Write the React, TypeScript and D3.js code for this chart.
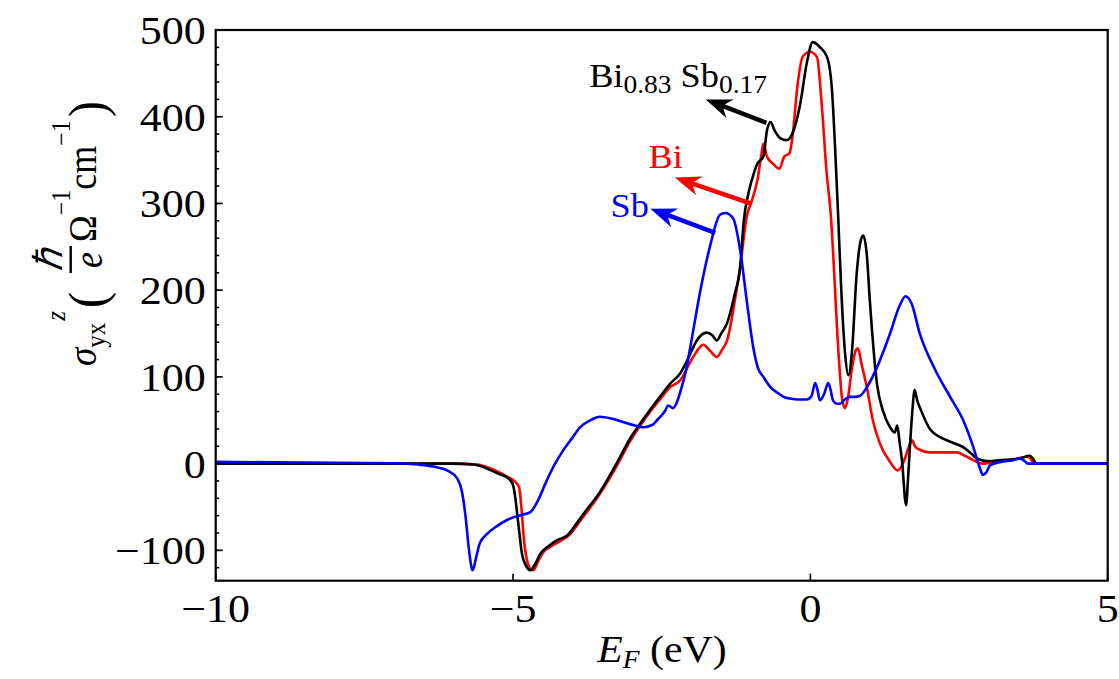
import React from "react";
import * as d3 from "d3";

// ---- data (E_F in eV, sigma in hbar/e Ohm^-1 cm^-1) ----
const sbX = [-10,-8,-7,-6.6,-6.3,-6.1,-5.94,-5.86,-5.8,-5.74,-5.68,-5.62,-5.56,-5.45,-5.27,-5.1,-5.0,-4.85,-4.71,-4.6,-4.43,-4.3,-4.16,-4.0,-3.87,-3.7,-3.54,-3.35,-3.15,-2.95,-2.81,-2.65,-2.58,-2.45,-2.39,-2.31,-2.25,-2.19,-2.1,-2.02,-1.86,-1.69,-1.52,-1.43,-1.3,-1.18,-1.07,-0.96,-0.88,-0.79,-0.67,-0.56,-0.45,-0.34,-0.2,-0.06,0.02,0.08,0.12,0.16,0.23,0.3,0.34,0.38,0.45,0.5,0.58,0.67,0.75,0.83,0.95,1.12,1.34,1.5,1.6,1.7,1.84,2.1,2.35,2.57,2.74,2.85,2.9,2.96,3.02,3.2,3.41,3.52,3.6,3.66,5];
const sbY = [2,1,0.5,-1,-4,-8,-17,-32,-60,-100,-123,-108,-92,-82,-72,-65,-62,-59,-56,-45,-19,-1,15,30,42,50,54,52,48,44,42,45,50,60,67,64,70,82,105,134,196,250,287,289,283,246,188,134,110,100,88,82,77,75,74,74,78,93,85,73,80,93,85,73,69,69,74,77,77,78,88,111,150,182,193,185,150,108,77,50,19,-5,-13,-10,-2,2,4,6,3,0,0];

const bisbX = [-10,-6,-5.67,-5.5,-5.33,-5.2,-5.1,-5.01,-4.96,-4.93,-4.89,-4.85,-4.78,-4.71,-4.63,-4.54,-4.4,-4.25,-4.09,-3.9,-3.75,-3.59,-3.3,-3.03,-2.8,-2.53,-2.36,-2.19,-2.05,-1.91,-1.74,-1.65,-1.57,-1.5,-1.4,-1.27,-1.18,-1.12,-1.04,-0.95,-0.89,-0.79,-0.73,-0.67,-0.6,-0.5,-0.4,-0.3,-0.17,-0.06,0.04,0.15,0.28,0.36,0.42,0.47,0.52,0.58,0.64,0.7,0.78,0.85,0.89,0.95,1.0,1.12,1.22,1.34,1.42,1.46,1.5,1.54,1.61,1.64,1.67,1.72,1.75,1.8,1.84,2.01,2.29,2.57,2.7,2.8,2.97,3.2,3.52,3.69,3.75,3.8,5];
const bisbY = [0,0,-1,-4,-9,-13,-16,-23,-40,-58,-82,-104,-118,-123,-116,-104,-95,-88,-83,-66,-52,-38,-5,29,52,77,92,104,122,142,151,148,142,150,162,196,227,280,312,335,346,354,384,394,384,375,373,381,415,462,486,481,469,434,358,281,200,130,102,130,220,258,263,240,188,92,61,42,36,44,25,4,-48,-20,15,65,85,72,65,40,27,19,12,6,3,4,6,9,5,0,0];

const biX = [-10,-6,-5.6,-5.3,-5.1,-4.98,-4.9,-4.86,-4.82,-4.77,-4.7,-4.66,-4.58,-4.5,-4.35,-4.2,-4.05,-3.85,-3.59,-3.3,-3.03,-2.8,-2.53,-2.36,-2.19,-1.97,-1.8,-1.7,-1.57,-1.48,-1.4,-1.27,-1.18,-1.07,-0.98,-0.89,-0.82,-0.79,-0.73,-0.63,-0.52,-0.44,-0.35,-0.3,-0.22,-0.13,-0.01,0.11,0.19,0.27,0.35,0.38,0.47,0.53,0.58,0.63,0.7,0.76,0.8,0.86,0.95,1.05,1.17,1.34,1.47,1.58,1.66,1.71,1.76,1.84,2.0,2.18,2.46,2.6,2.74,2.9,3.1,3.41,3.66,3.72,3.75,5];
const biY = [0,0,-1,-8,-15,-20,-27,-50,-85,-110,-122,-123,-113,-103,-95,-89,-82,-64,-40,-8,26,50,74,88,96,123,137,131,123,132,142,188,227,285,304,327,358,369,354,346,340,354,358,377,434,469,475,469,415,338,281,246,131,77,64,75,110,130,133,115,88,50,23,2,-8,4,20,27,20,16,13,13,13,9,4,0,2,5,8,4,0,0];

const xTicks = [-10, -5, 0, 5];
const yTicks = [-100, 0, 100, 200, 300, 400, 500];
const yMinorTicks = d3.range(-120, 501, 20);

// annotation anchors (data coordinates)
const annSb = { color: "#0000ff", tx: -3.36, ty: 284, x1: -1.6, y1: 266, x2: -2.69, y2: 294 };
const annBi = { color: "#ff0000", tx: -2.72, ty: 341, x1: -1.01, y1: 300, x2: -2.28, y2: 330 };
const annBiSb = { color: "#000000", tx: -3.72, ty: 434, x1: -0.74, y1: 393, x2: -1.76, y2: 420 };

const W = 1119, H = 679;
const L = 215.7, R = 1107.7, T = 30, B = 580.7;
const FONT = "'Liberation Serif', 'Times New Roman', serif";

function zip(xs: number[], ys: number[]) {
  return xs.map((x, i) => [x, ys[i]] as [number, number]);
}

function fmt(v: number) {
  return v < 0 ? "\u2212" + Math.abs(v) : String(v);
}

export default function App() {
  const x = d3.scaleLinear().domain([-10, 5]).range([L, R]);
  const y = d3.scaleLinear().domain([-135, 500]).range([B, T]);
  const line = d3.line<[number, number]>().x(d => x(d[0])).y(d => y(d[1])).curve(d3.curveMonotoneX);

  const series = [
    { data: zip(biX, biY), color: "#ff0000" },
    { data: zip(bisbX, bisbY), color: "#000000" },
    { data: zip(sbX, sbY), color: "#0000ff" },
  ];

  const arrow = (a: any, key: string) => {
    const px1 = x(a.x1), py1 = y(a.y1), px2 = x(a.x2), py2 = y(a.y2);
    const dx = px2 - px1, dy = py2 - py1;
    const len = Math.hypot(dx, dy);
    const ux = dx / len, uy = dy / len;
    const hl = 24, hw = 10;
    const bx = px2 - ux * hl, by = py2 - uy * hl;
    const nx = -uy, ny = ux;
    return (
      <g key={key}>
        <line x1={px1} y1={py1} x2={bx + ux * 6} y2={by + uy * 6} stroke={a.color} strokeWidth={4.5} />
        <path d={`M${px2},${py2}L${bx - ux * 2 + nx * hw},${by - uy * 2 + ny * hw}L${bx + ux * 6},${by + uy * 6}L${bx - ux * 2 - nx * hw},${by - uy * 2 - ny * hw}Z`} fill={a.color} />
      </g>
    );
  };

  const SX = 1.1; // horizontal stretch of text in the reference

  return (
    <svg width={W} height={H} style={{ position: "absolute", left: 0, top: 0, display: "block", background: "#fff" }} fontFamily={FONT}>
      <defs>
        <clipPath id="plot">
          <rect x={L} y={T} width={R - L} height={B - T} />
        </clipPath>
      </defs>
      {/* curves */}
      <g clipPath="url(#plot)">
        {series.map((s, i) => (
          <path key={i} d={line(s.data) || ""} fill="none" stroke={s.color} strokeWidth={2.6} strokeLinejoin="round" />
        ))}
      </g>
      {/* frame */}
      <rect x={L} y={T} width={R - L} height={B - T} fill="none" stroke="#000" strokeWidth={2.2} />
      {/* y ticks */}
      {yMinorTicks.map(v => (
        <line key={"m" + v} x1={L} x2={L + 3.5} y1={y(v)} y2={y(v)} stroke="#000" strokeWidth={1.6} />
      ))}
      {yTicks.map(v => (
        <g key={"y" + v}>
          <line x1={L} x2={L + 7} y1={y(v)} y2={y(v)} stroke="#000" strokeWidth={1.6} />
          <text transform={`translate(${L - 10},${y(v) + 14}) scale(${SX},1)`} fontSize={40} textAnchor="end" fill="#000">
            {fmt(v)}
          </text>
        </g>
      ))}
      {/* x ticks */}
      {xTicks.map(v => (
        <g key={"x" + v}>
          <line x1={x(v)} x2={x(v)} y1={B} y2={B - 7} stroke="#000" strokeWidth={1.6} />
          <text transform={`translate(${x(v)},${B + 41}) scale(${SX},1)`} fontSize={40} textAnchor="middle" fill="#000">
            {fmt(v)}
          </text>
        </g>
      ))}
      {/* x label */}
      <text transform={`translate(662,662) scale(${SX},1)`} fontSize={38} textAnchor="middle" fill="#000">
        <tspan fontStyle="italic">E</tspan>
        <tspan fontStyle="italic" fontSize={25} dy={6}>F</tspan>
        <tspan dy={-6}> (eV)</tspan>
      </text>
      {/* y label (rotated) */}
      <g transform={`translate(96,366) rotate(-90) scale(1,${SX})`} fill="#000">
        <text x={0} y={0} fontSize={37}>
          <tspan fontStyle="italic">σ</tspan>
          <tspan fontSize={25} dy={8}>yx</tspan>
          <tspan fontSize={25} fontStyle="italic" dy={-36} dx={2}>z</tspan>
        </text>
        <text x={58} y={8} fontSize={48}>(</text>
        <text x={95} y={-31} fontSize={36} fontStyle="italic">ℏ</text>
        <line x1={93} x2={120} y1={-23} y2={-23} stroke="#000" strokeWidth={2.2} />
        <text x={98} y={5} fontSize={36} fontStyle="italic">e</text>
        <text x={124} y={0} fontSize={36}>
          <tspan>Ω</tspan>
          <tspan fontSize={24} dy={-24}>−1</tspan>
          <tspan dy={24}>cm</tspan>
          <tspan fontSize={24} dy={-24}>−1</tspan>
        </text>
        <text x={249} y={8} fontSize={48}>)</text>
      </g>
      {/* annotations */}
      {arrow(annSb, "a1")}
      {arrow(annBi, "a2")}
      {arrow(annBiSb, "a3")}
      <text transform={`translate(${x(annSb.tx)},${y(annSb.ty)}) scale(${SX},1)`} fontSize={33} fill={annSb.color}>Sb</text>
      <text transform={`translate(${x(annBi.tx)},${y(annBi.ty)}) scale(${SX},1)`} fontSize={33} fill={annBi.color}>Bi</text>
      <text transform={`translate(${x(annBiSb.tx)},${y(annBiSb.ty)}) scale(${SX},1)`} fontSize={33} fill={annBiSb.color}>
        <tspan>Bi</tspan>
        <tspan fontSize={25} dy={6}>0.83</tspan>
        <tspan dy={-6}> Sb</tspan>
        <tspan fontSize={25} dy={6}>0.17</tspan>
      </text>
    </svg>
  );
}
